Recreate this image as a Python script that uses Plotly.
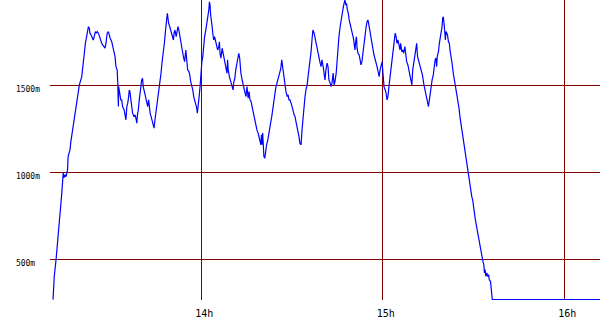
import plotly.graph_objects as go

# Time in minutes after 13:00, altitude in metres
climb_min = [11.0, 11.1, 11.4, 12.0, 12.2, 12.5, 13.0, 13.3, 13.6, 13.9, 14.2, 14.4, 14.6, 15.0, 15.3, 15.6,
             15.8, 16.0, 16.6, 16.9, 17.4, 17.9, 18.4, 18.8, 19.7, 20.5, 21.0, 21.3, 21.7, 22.1, 22.5, 22.7]
climb_alt = [271, 328, 404, 500, 538, 595, 671, 729, 805, 881, 957, 997, 969, 986, 975, 1003,
             1015, 1091, 1129, 1176, 1234, 1291, 1358, 1415, 1501, 1548, 1634, 1701, 1739, 1777, 1815, 1834]

seg_b_min = [23.0, 23.2, 23.6, 23.9, 24.3, 24.6, 25.0, 25.3, 25.6, 26.0, 26.3, 26.8, 27.1, 27.4, 27.9, 28.2,
             28.5, 28.9, 29.3, 29.6, 29.9, 30.4, 30.7, 31.1, 31.5, 31.8, 32.2, 32.4, 32.6, 32.7, 33.1, 33.4,
             33.7, 34.0, 34.5, 34.8, 35.1, 35.4, 35.7, 36.0, 36.2, 36.4, 36.7, 37.0, 37.3, 37.8, 38.1, 38.4,
             38.7, 38.9, 39.2, 39.5, 40.0, 40.3, 40.6, 40.8, 41.2, 41.5, 42.0, 42.3, 42.6, 42.8, 43.1]
seg_b_alt = [1825, 1797, 1787, 1777, 1758, 1777, 1806, 1797, 1806, 1797, 1777, 1758, 1739, 1730, 1720, 1711,
             1739, 1797, 1806, 1777, 1768, 1748, 1720, 1701, 1663, 1605, 1587, 1511, 1377, 1491, 1453, 1415,
             1415, 1377, 1358, 1329, 1301, 1377, 1396, 1434, 1472, 1462, 1425, 1377, 1339, 1319, 1329, 1310,
             1282, 1329, 1358, 1415, 1491, 1529, 1539, 1491, 1462, 1434, 1396, 1377, 1415, 1358, 1339]

seg_c_min = [43.7, 44.1, 44.4, 44.7, 45.0, 45.5, 45.9, 46.4, 46.7, 47.0,
             47.5, 47.8, 48.1, 48.3, 48.6, 48.8, 49.0, 49.2, 49.6, 49.9,
             50.2, 50.6, 50.8, 51.0, 51.3, 51.7, 52.0, 52.3, 52.6, 52.9,
             53.2, 53.5, 53.9, 54.2, 54.5, 54.9, 55.2, 55.5, 55.9, 56.2,
             56.5, 56.8, 57.2, 57.5, 57.8, 58.2, 58.5, 58.7, 58.9, 59.3,
             59.6, 59.8, 60.2, 60.5, 60.8, 61.1, 61.5, 61.8, 62.1, 62.5,
             62.7, 62.9, 63.1, 63.3, 63.6, 63.8, 64.1, 64.4, 64.8, 65.1,
             65.4, 65.8, 66.0, 66.2, 66.5, 66.9, 67.2, 67.5, 67.9, 68.2,
             68.5, 68.7, 68.9, 69.3, 69.6, 69.9, 70.3, 70.5, 70.7, 71.1,
             71.4, 71.7, 72.1, 72.4, 72.7, 72.8]
seg_c_alt = [1301, 1272, 1253, 1301, 1339, 1396, 1444, 1501, 1568, 1625,
             1682, 1739, 1797, 1854, 1882, 1911, 1882, 1854, 1834, 1815,
             1797, 1768, 1758, 1797, 1815, 1777, 1806, 1834, 1815, 1777,
             1739, 1720, 1682, 1654, 1634, 1701, 1625, 1587, 1577, 1558,
             1520, 1501, 1472, 1434, 1415, 1396, 1368, 1339, 1386, 1434,
             1491, 1548, 1634, 1663, 1739, 1777, 1815, 1844, 1891, 1930,
             1977, 1958, 1901, 1854, 1834, 1797, 1758, 1777, 1739, 1711,
             1701, 1720, 1748, 1682, 1654, 1711, 1682, 1654, 1625, 1605,
             1568, 1644, 1587, 1548, 1529, 1511, 1482, 1472, 1511, 1539,
             1587, 1615, 1634, 1682, 1654, 1605]

seg_d_min = [73.1, 73.5, 73.8, 74.1, 74.5, 74.8, 75.1, 75.5, 75.8, 76.1,
             76.5, 76.8, 77.1, 77.4, 77.8, 78.1, 78.4, 78.8, 79.1, 79.4,
             79.7, 79.9, 80.1, 80.3, 80.5, 80.7, 81.0, 81.3, 81.6, 82.0,
             82.3, 82.6, 83.0, 83.3, 83.6, 84.0, 84.3, 84.6, 84.9, 85.3,
             85.6, 85.9, 86.3, 86.6, 86.8, 87.0, 87.4, 87.7, 88.0, 88.4,
             88.7, 89.0, 89.3, 89.7, 90.0, 90.3, 90.7, 91.0, 91.3, 91.7,
             92.0, 92.3, 92.6, 93.0, 93.3, 93.6, 94.0, 94.3, 94.6, 95.0,
             95.3, 95.6, 96.0, 96.3, 96.6, 96.9, 97.3, 97.6, 97.9, 98.3, 98.6, 98.9]
seg_d_alt = [1568, 1529, 1501, 1482, 1453, 1434, 1491, 1425, 1462, 1415,
             1405, 1377, 1348, 1319, 1291, 1262, 1243, 1225, 1205, 1186,
             1158, 1215, 1158, 1225, 1129, 1091, 1081, 1129, 1158, 1186,
             1225, 1253, 1291, 1319, 1368, 1405, 1444, 1482, 1501, 1529,
             1548, 1577, 1596, 1644, 1615, 1587, 1520, 1491, 1462, 1434,
             1444, 1415, 1415, 1396, 1368, 1358, 1329, 1319, 1291, 1262,
             1234, 1205, 1167, 1158, 1243, 1319, 1377, 1434, 1472, 1501,
             1548, 1587, 1644, 1691, 1758, 1815, 1797, 1768, 1739, 1701, 1682, 1663]

seg_e_min = [99.3, 99.6, 99.9, 100.3, 100.6, 100.9, 101.2, 101.6, 101.9, 102.2,
             102.6, 102.9, 103.2, 103.6, 103.9, 104.2, 104.6, 104.9, 105.2, 105.5,
             105.9, 106.2, 106.5, 106.9, 107.2, 107.5, 107.8, 108.0, 108.3, 108.6,
             108.9, 109.3, 109.6, 109.9, 110.3, 110.6, 110.8, 111.1, 111.3, 111.5,
             111.8, 112.2, 112.5, 112.8, 113.1, 113.5, 113.8, 114.1, 114.5, 114.8,
             115.1, 115.5, 115.8, 116.1, 116.5, 116.8, 117.1, 117.4, 117.8, 118.1,
             118.4, 118.8, 119.1, 119.4, 119.8, 119.9, 120.1, 120.4, 120.8, 121.1,
             121.4, 121.7, 122.1, 122.4, 122.7, 123.1, 123.4, 123.7, 124.1, 124.4,
             124.7, 125.0, 125.4, 125.7, 125.9, 126.3, 126.6, 126.9, 127.3, 127.6,
             127.9, 128.3, 128.6, 128.9, 129.2, 129.6]
seg_e_alt = [1625, 1605, 1644, 1605, 1548, 1529, 1587, 1625, 1605, 1529,
             1511, 1491, 1511, 1568, 1501, 1520, 1568, 1644, 1720, 1777,
             1834, 1873, 1911, 1940, 1968, 1987, 1958, 1968, 1930, 1911,
             1873, 1834, 1815, 1797, 1768, 1739, 1701, 1758, 1777, 1711,
             1682, 1672, 1644, 1615, 1634, 1701, 1758, 1797, 1834, 1863,
             1873, 1834, 1797, 1758, 1720, 1701, 1672, 1644, 1625, 1605,
             1577, 1548, 1587, 1605, 1634, 1605, 1548, 1491, 1472, 1453,
             1415, 1434, 1501, 1548, 1605, 1663, 1720, 1758, 1797, 1777,
             1739, 1758, 1720, 1701, 1739, 1691, 1701, 1682, 1720, 1672,
             1634, 1615, 1587, 1558, 1520, 1501]

descent_min = [129.9, 130.2, 130.5, 130.9, 131.2, 131.5, 131.9, 132.2, 132.5, 133.1,
               133.6, 134.0, 134.3, 134.7, 135.1, 135.4, 135.6, 136.0, 136.3, 136.7,
               137.0, 137.3, 137.6, 137.8, 138.0, 138.4, 138.7, 138.9, 139.3, 139.6,
               139.8, 140.0, 140.3, 140.5, 140.7, 140.9, 141.2, 141.4, 141.7, 142.0,
               142.2, 142.6, 142.9, 143.3, 143.7, 144.0, 144.2, 144.6, 144.9, 145.2,
               145.5, 145.9, 146.2, 146.5, 146.9, 147.2, 147.5, 147.9, 148.1, 148.4,
               148.8, 149.1, 149.4, 149.7, 149.9, 150.3, 150.6, 151.1, 151.4, 151.7,
               152.1, 152.4, 152.7, 153.1, 153.4, 153.6, 153.8, 154.1, 154.4, 154.7,
               155.0, 155.2, 155.6, 155.8, 156.0, 156.2, 192.0]
descent_alt = [1587, 1625, 1682, 1701, 1739, 1663, 1634, 1605, 1587, 1558,
               1501, 1472, 1444, 1415, 1377, 1415, 1444, 1491, 1529, 1558,
               1605, 1644, 1654, 1605, 1663, 1691, 1739, 1758, 1797, 1834,
               1882, 1891, 1844, 1797, 1758, 1806, 1797, 1787, 1748, 1739,
               1701, 1663, 1625, 1568, 1529, 1501, 1472, 1434, 1405, 1368,
               1319, 1272, 1234, 1196, 1148, 1110, 1072, 1033, 996, 957,
               919, 890, 862, 843, 814, 786, 729, 681, 652, 614,
               576, 538, 509, 490, 471, 424, 443, 404, 424, 404,
               414, 385, 376, 347, 290, 271, 271]

x_tick_vals = [60, 120, 180]
x_tick_text = ["14h", "15h", "16h"]
y_tick_vals = [500, 1000, 1500]
y_tick_text = ["500m\u00a0", "1000m", "1500m"]

minutes = []
altitude = []
for t, a in [(climb_min, climb_alt), (seg_b_min, seg_b_alt), (seg_c_min, seg_c_alt),
             (seg_d_min, seg_d_alt), (seg_e_min, seg_e_alt), (descent_min, descent_alt)]:
    n = min(len(t), len(a))
    minutes += t[:n]
    altitude += a[:n]

GRID = "#800000"
fig = go.Figure()
fig.add_trace(go.Scatter(x=minutes, y=altitude, mode="lines",
                         line=dict(color="#0000ff", width=1.2), hoverinfo="skip"))

fig.update_layout(
    width=600, height=330,
    margin=dict(l=50, r=0, t=0, b=30),
    paper_bgcolor="white", plot_bgcolor="white",
    showlegend=False,
    font=dict(family="DejaVu Sans Mono", color="black"),
)
fig.update_xaxes(range=[10, 191.8], tickmode="array", tickvals=x_tick_vals, ticktext=x_tick_text,
                 showgrid=True, gridcolor=GRID, gridwidth=1, zeroline=False, showline=False,
                 ticks="", tickfont=dict(family="DejaVu Sans Mono", size=10, color="black"),
                 ticklabelshift=3, ticklabelstandoff=6)
fig.update_yaxes(range=[269, 1987], tickmode="array", tickvals=y_tick_vals, ticktext=y_tick_text,
                 showgrid=True, gridcolor=GRID, gridwidth=1, zeroline=False, showline=False,
                 ticks="", tickfont=dict(family="DejaVu Sans Mono", size=8, color="black"),
                 ticklabelshift=4, ticklabelstandoff=9)

fig.write_html("out.html")
